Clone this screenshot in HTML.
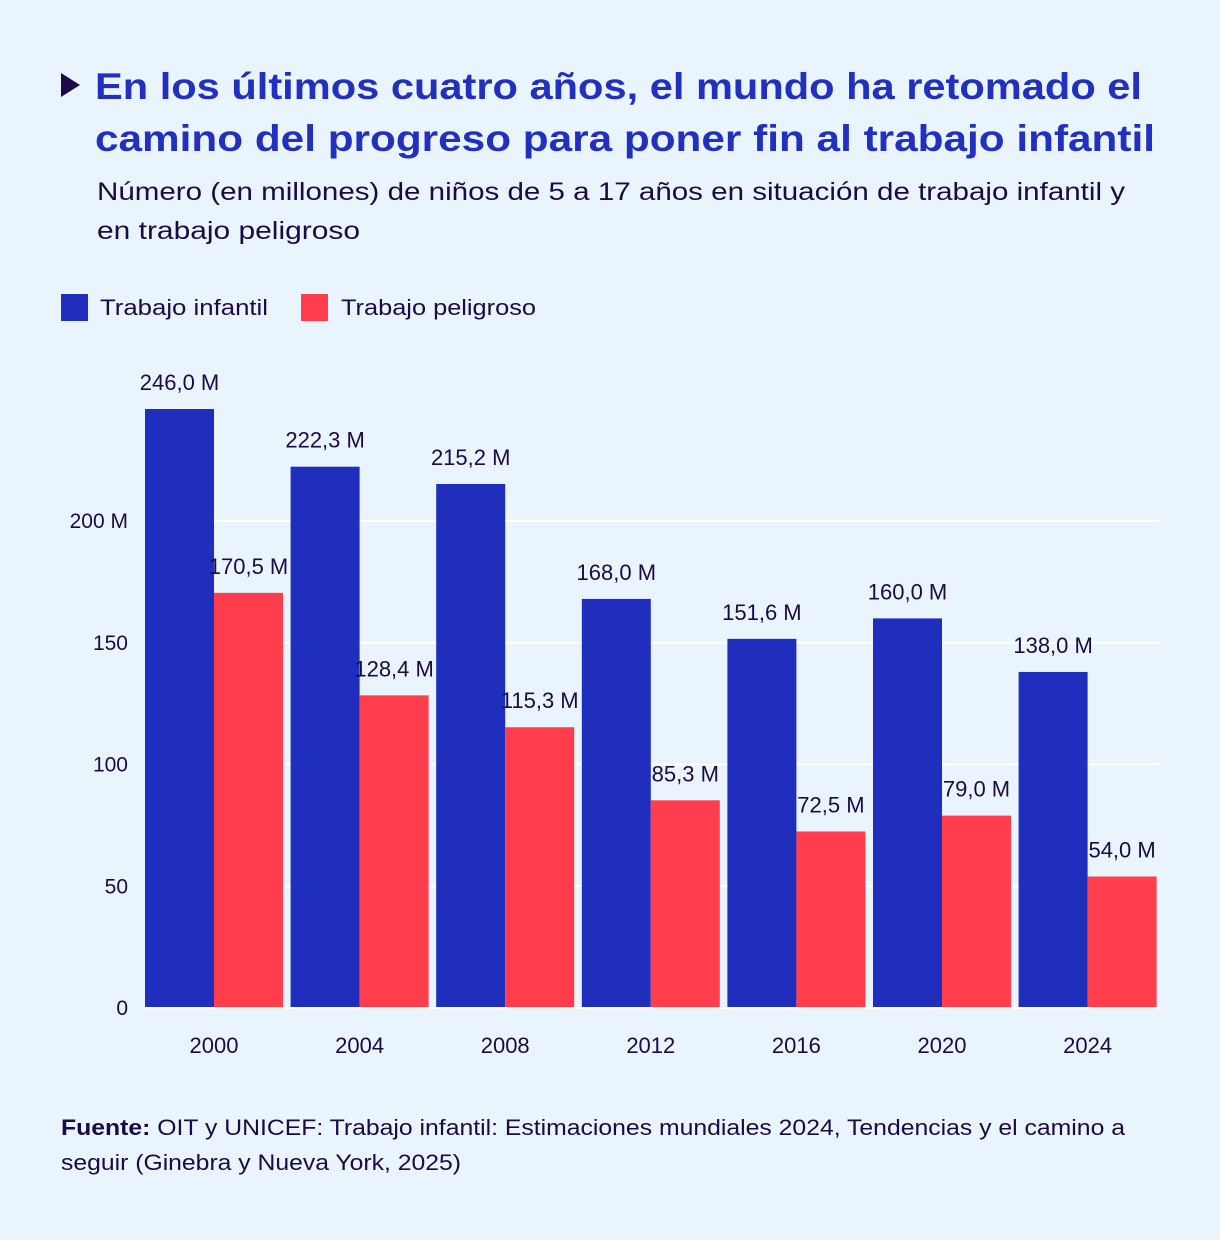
<!DOCTYPE html>
<html><head><meta charset="utf-8"><style>
body{margin:0;background:#eaf4fd;font-family:"Liberation Sans","DejaVu Sans",sans-serif;}
#wrap{position:relative;width:1220px;height:1240px;background:#eaf4fd;overflow:hidden}
</style></head><body>
<div id="wrap">
<svg width="1220" height="1240">
<polygon points="61,73 61,97 80,85" fill="#1c0a45"/>
<text x="95" y="99" font-size="37" font-weight="bold" fill="#2230c0" textLength="1047" lengthAdjust="spacingAndGlyphs">En los últimos cuatro años, el mundo ha retomado el</text>
<text x="95" y="151" font-size="37" font-weight="bold" fill="#2230c0" textLength="1060" lengthAdjust="spacingAndGlyphs">camino del progreso para poner fin al trabajo infantil</text>
<text x="97" y="200" font-size="25" fill="#1c0a45" textLength="1028" lengthAdjust="spacingAndGlyphs">Número (en millones) de niños de 5 a 17 años en situación de trabajo infantil y</text>
<text x="97" y="239" font-size="25" fill="#1c0a45" textLength="263" lengthAdjust="spacingAndGlyphs">en trabajo peligroso</text>
<rect x="61" y="294" width="27" height="27" fill="#1f2ebd"/>
<text x="100" y="315" font-size="22" fill="#1c0a45" textLength="168" lengthAdjust="spacingAndGlyphs">Trabajo infantil</text>
<rect x="301" y="294" width="27" height="27" fill="#ff3d4d"/>
<text x="341" y="315" font-size="22" fill="#1c0a45" textLength="195" lengthAdjust="spacingAndGlyphs">Trabajo peligroso</text>
<g id="plot"></g>
<text x="61" y="1135" font-size="22" fill="#1c0a45" textLength="1064" lengthAdjust="spacingAndGlyphs"><tspan font-weight="bold">Fuente:</tspan> OIT y UNICEF: Trabajo infantil: Estimaciones mundiales 2024, Tendencias y el camino a</text>
<text x="61" y="1170" font-size="22" fill="#1c0a45" textLength="400" lengthAdjust="spacingAndGlyphs">seguir (Ginebra y Nueva York, 2025)</text>
</svg>
</div>
<script>
const years=["2000","2004","2008","2012","2016","2020","2024"];
const infantil=[246.0,222.3,215.2,168.0,151.6,160.0,138.0];
const peligroso=[170.5,128.4,115.3,85.3,72.5,79.0,54.0];
const yTicks=[0,50,100,150,200];
const yTickLabels=["0","50","100","150","200 M"];
const NS="http://www.w3.org/2000/svg";
const g=document.getElementById('plot');
const y0=1008,pxPer=487/200,x0=145,groupW=145.6,barW=69;
const yS=v=>y0-v*pxPer;
const xC=i=>x0+barW+i*groupW;
function mk(t,a){const e=document.createElementNS(NS,t);for(const k in a)e.setAttribute(k,a[k]);g.appendChild(e);return e;}
const fmt=v=>v.toFixed(1).replace('.',',')+' M';
yTicks.forEach((t,i)=>{
  if(t>0){const l=mk('line',{x1:x0,x2:1160,y1:yS(t),y2:yS(t),stroke:'#ffffff','stroke-width':2});
  
  }
  const tx=mk('text',{x:128,y:yS(t)+7,'font-size':21,fill:'#1c0a45','text-anchor':'end'});
  tx.textContent=yTickLabels[i];
  
  
});
years.forEach((yr,i)=>{
  const c=xC(i);
  const b=mk('rect',{x:c-barW,y:yS(infantil[i]),width:barW,height:infantil[i]*pxPer,fill:'#1f2ebd'});
  
  
  const r=mk('rect',{x:c,y:yS(peligroso[i]),width:barW,height:peligroso[i]*pxPer,fill:'#ff3d4d'});
  
  
  const l1=mk('text',{x:c-barW/2,y:yS(infantil[i])-19,'font-size':22,fill:'#1c0a45','text-anchor':'middle'});
  l1.textContent=fmt(infantil[i]);
  
  
  const l2=mk('text',{x:c+barW/2,y:yS(peligroso[i])-19,'font-size':22,fill:'#1c0a45','text-anchor':'middle'});
  l2.textContent=fmt(peligroso[i]);
  
  
  const xt=mk('text',{x:c,y:1053,'font-size':22,fill:'#1c0a45','text-anchor':'middle'});
  xt.textContent=yr;
  
  
});
const ax=mk('line',{x1:x0,x2:1160,y1:y0,y2:y0,stroke:'#ffffff','stroke-width':2});


</script>
</body></html>
